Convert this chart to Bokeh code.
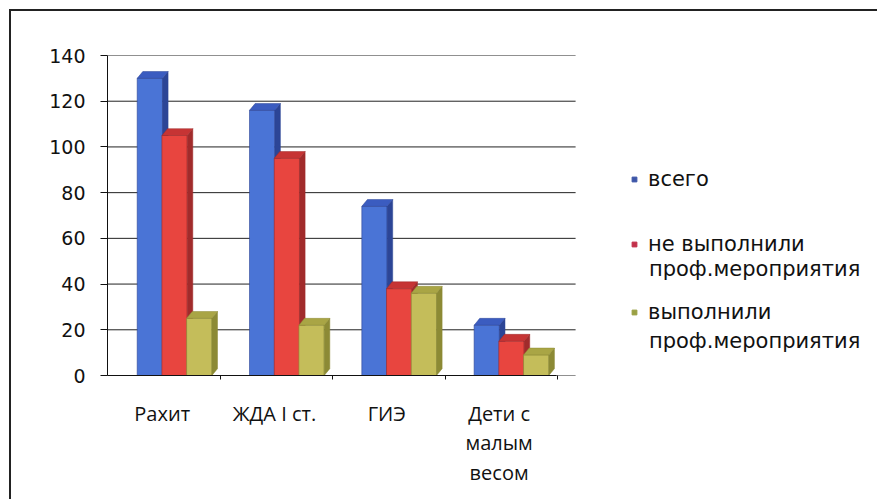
from bokeh.plotting import figure
from bokeh.models import (ColumnDataSource, Legend, LegendItem, FixedTicker,
                          Range1d, Label)
from bokeh.embed import file_html
from bokeh.resources import INLINE

categories = ["Рахит", "ЖДА I ст.", "ГИЭ", "Дети с\nмалым\nвесом"]
series_first_lines = ["всего", "не выполнили", "выполнили"]
series_second_lines = ["", "проф.мероприятия", "проф.мероприятия"]
vsego = [130, 116, 74, 22]
ne_vypolnili = [105, 95, 38, 15]
vypolnili = [25, 22, 36, 9]
y_ticks = [0, 20, 40, 60, 80, 100, 120, 140]

series = [vsego, ne_vypolnili, vypolnili]
front_colors = ["#4a74d6", "#e8453f", "#c4bd5a"]
side_colors = ["#2c4596", "#a12b2b", "#8c8a35"]
top_colors = ["#3b5cc0", "#c63434", "#a9a545"]
legend_colors = ["#3d56a8", "#c2304a", "#9aa043"]
dodges = [-0.22, 0.0, 0.22]
bar_w = 0.225
dx, dy = 0.05, 3.0

X0, X1 = -0.597, 6.277      # visible x range (category index units)
GRID_END = 3.571            # right end of the chart wall

W, H = 868, 490
p = figure(width=W, height=H, output_backend="svg", toolbar_location=None,
           x_range=Range1d(X0, X1), y_range=Range1d(0, 140),
           min_border_left=96, min_border_right=0, min_border_top=44,
           min_border_bottom=126, background_fill_color="white",
           border_fill_color="white")
p.styles = {"border-top": "2px solid #222", "border-left": "2px solid #222",
            "margin-left": "9px", "margin-top": "9px"}
p.outline_line_color = None

# y axis
p.yaxis.ticker = FixedTicker(ticks=y_ticks)
p.yaxis.major_label_text_font = "DejaVu Sans"
p.yaxis.major_label_text_font_size = "19px"
p.yaxis.major_label_text_color = "#111"
p.yaxis.axis_line_color = "#111"
p.yaxis.major_tick_line_color = "#111"
p.yaxis.major_tick_out = 7
p.yaxis.major_tick_in = 0
p.yaxis.minor_tick_line_color = None
p.yaxis.major_label_standoff = 15

# x axis
idx = list(range(len(categories)))
p.xaxis.ticker = FixedTicker(ticks=[i - 0.11 for i in idx],
                             minor_ticks=[i + 0.41 for i in idx])
p.xaxis.major_label_overrides = {i - 0.11: c for i, c in zip(idx, categories)}
p.xaxis.major_label_text_font = "Open Sans"
p.xaxis.major_label_text_font_size = "20px"
p.xaxis.major_label_text_color = "#111"
p.xaxis.major_label_text_line_height = 1.1
p.xaxis.major_tick_line_color = None
p.xaxis.minor_tick_line_color = "#111"
p.xaxis.minor_tick_out = 4
p.xaxis.minor_tick_in = 0
p.xaxis.axis_line_color = "#111"
p.xaxis.bounds = (X0, 3.4)
p.xaxis.major_label_standoff = 18

p.xgrid.grid_line_color = None
p.ygrid.grid_line_color = None
# horizontal grid lines on the chart wall only
p.segment(x0=[X0] * len(y_ticks), x1=[GRID_END] * len(y_ticks),
          y0=y_ticks, y1=y_ticks, line_color="#222", line_width=1)

renderers = []
for s, vals in enumerate(series):
    xs = [i + dodges[s] for i in idx]
    src = ColumnDataSource(dict(x=xs, top=vals))
    r = p.vbar(x="x", top="top", width=bar_w, source=src,
               fill_color=front_colors[s], line_color=side_colors[s], line_width=0.6)
    side_xs, side_ys, top_xs, top_ys = [], [], [], []
    for x, v in zip(xs, vals):
        xl, xr = x - bar_w / 2, x + bar_w / 2
        side_xs.append([xr, xr + dx, xr + dx, xr])
        side_ys.append([0, dy, v + dy, v])
        top_xs.append([xl, xr, xr + dx, xl + dx])
        top_ys.append([v, v, v + dy, v + dy])
    p.patches(side_xs, side_ys, fill_color=side_colors[s], line_color=side_colors[s], line_width=0.5)
    p.patches(top_xs, top_ys, fill_color=top_colors[s], line_color=side_colors[s], line_width=0.5)
    renderers.append(r)

# legend: one Legend per series (first line), continuation lines as labels
legend_locs = [(521, 184), (521, 119), (521, 51)]
for s in range(3):
    dummy = p.scatter(x=[X0 - 10], y=[-10], marker="square", size=12,
                      fill_color=legend_colors[s], line_color=legend_colors[s])
    lg = Legend(items=[LegendItem(label=series_first_lines[s], renderers=[dummy])],
                location=legend_locs[s], padding=0, margin=0, border_line_color=None,
                background_fill_alpha=0, glyph_width=12, glyph_height=12,
                label_text_font="DejaVu Sans", label_text_font_size="21px",
                label_text_color="#111", label_text_line_height=1.1,
                label_standoff=8)
    p.add_layout(lg, "center")

second_line_y = [0, 46.8, 15.3]
for s in range(3):
    if series_second_lines[s]:
        p.add_layout(Label(x=4.224, y=second_line_y[s], text=series_second_lines[s],
                           text_font="DejaVu Sans", text_font_size="21px",
                           text_color="#111", text_baseline="middle"))

open("out.html", "w").write(file_html(p, INLINE))
